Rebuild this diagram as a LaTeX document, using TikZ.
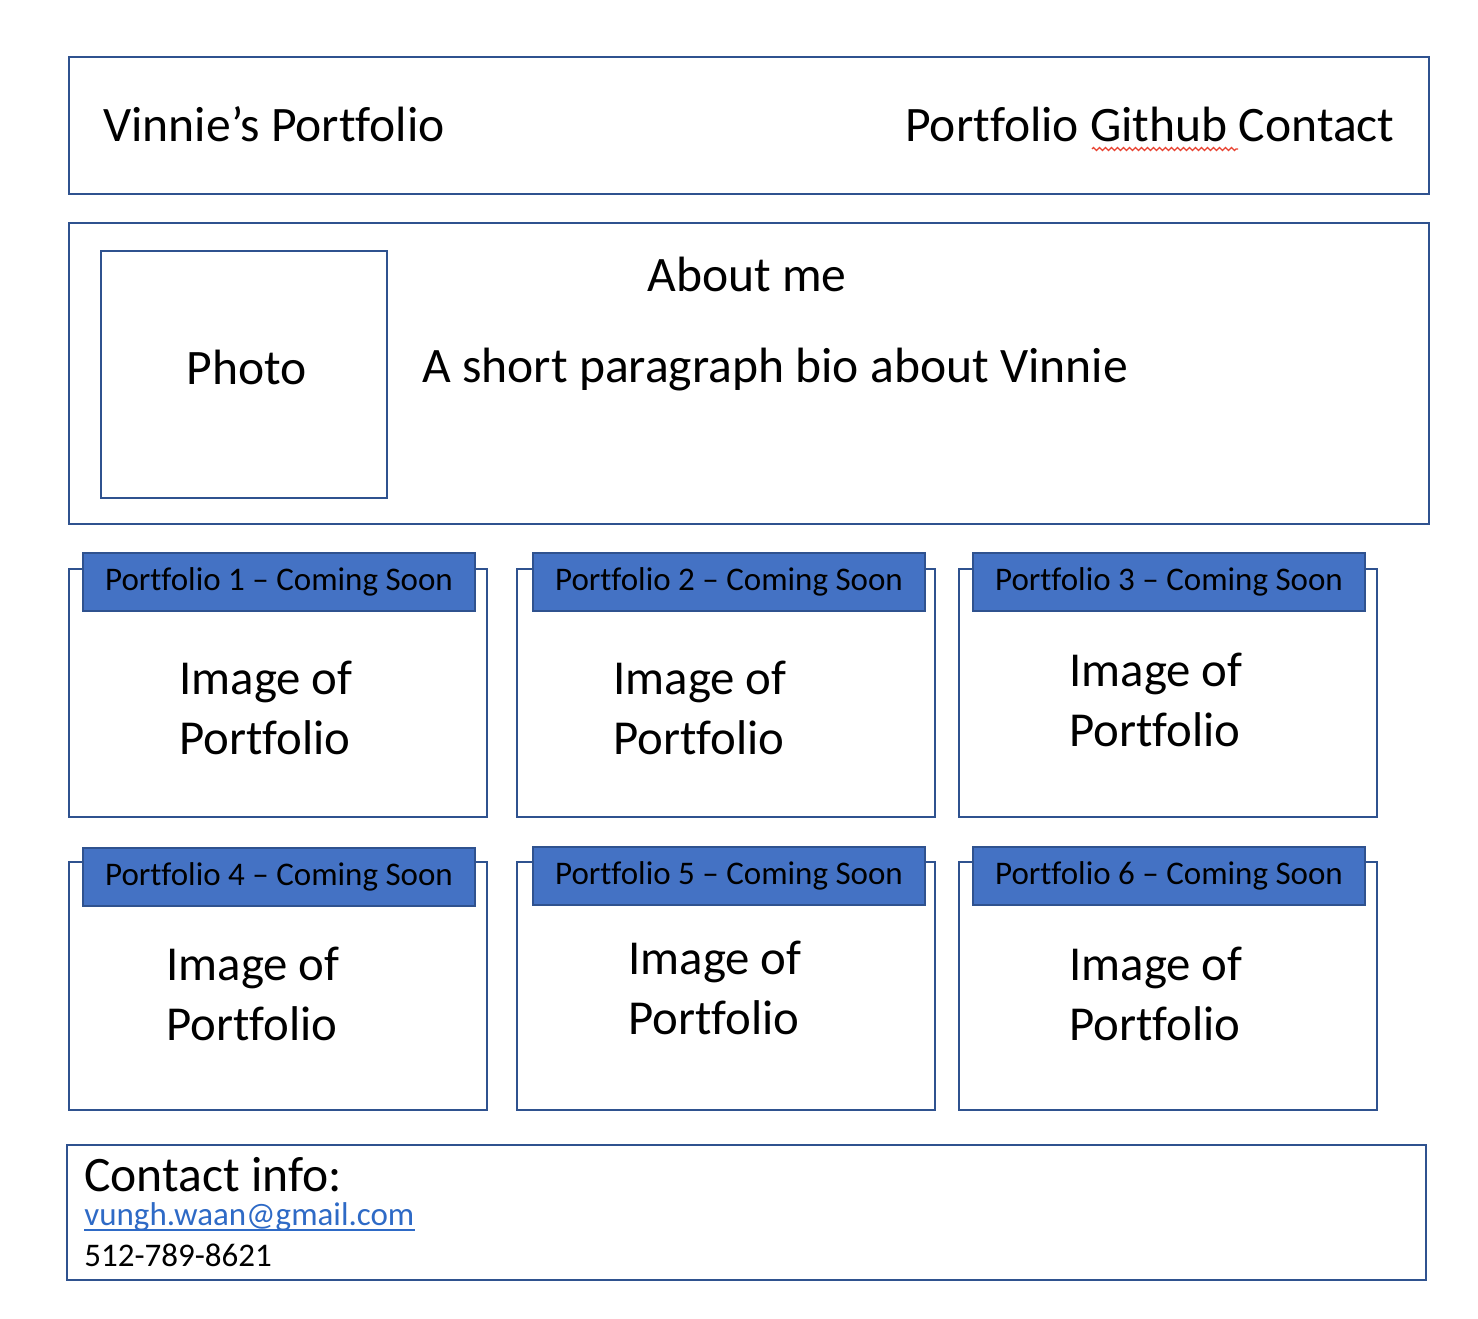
\documentclass[tikz,border=0pt]{standalone}
\usepackage{fontspec}
\setmainfont[Ligatures=NoCommon]{Carlito}
\usepackage{xcolor}
\usetikzlibrary{decorations.pathmorphing}

\definecolor{frameblue}{HTML}{2F528F}
\definecolor{tabblue}{HTML}{4472C4}
\definecolor{linkblue}{HTML}{2E6AC6}
\definecolor{spellred}{HTML}{E8412F}

\begin{document}
\begin{tikzpicture}[x=0.5pt, y=-0.5pt]
    \tikzstyle{panel}=[rectangle, draw=frameblue, line width=1pt, minimum width=680pt]
    \tikzstyle{card}=[rectangle, draw=frameblue, line width=1pt, minimum width=209pt, minimum height=124pt]
    \tikzstyle{tab}=[rectangle, draw=frameblue, fill=tabblue, line width=1pt, minimum width=196pt, minimum height=29pt, font=\fontsize{16.5}{19}\selectfont]
    \tikzstyle{caption}=[anchor=west, inner sep=0pt, align=left, font=\fontsize{24.4}{30}\selectfont]
    \tikzstyle{big}=[inner sep=0pt, font=\fontsize{24.8}{29}\selectfont]
    \tikzstyle{small}=[anchor=base west, inner sep=0pt, font=\fontsize{16.5}{19}\selectfont]

    \useasboundingbox (0,0) rectangle (1478,1318);

    % header bar
    \node[panel, minimum height=68.5pt] (header) at (749,125.5) {};
    \node[big, anchor=base west] (title) at (103,141) {Vinnie’s Portfolio};
    \node[big, anchor=base east] (nav) at (1395,141) {Portfolio Github Contact};
    \draw[spellred, line width=0.6pt, decorate, decoration={zigzag, segment length=3pt, amplitude=0.8pt}] (1092,149) -- (1238,149);

    % about section
    \node[panel, minimum height=150.5pt] (about) at (749,373.5) {};
    \node[rectangle, draw=frameblue, line width=1pt, minimum width=143pt, minimum height=123.5pt] (photo) at (244,374.5) {};
    \node[big, anchor=base] (phototext) at (247,384) {Photo};
    \node[big, anchor=base] (abouthead) at (747,291) {About me};
    \node[big, anchor=base west] (bio) at (422,382) {A short paragraph bio about Vinnie};

    % portfolio cards
    \foreach \i/\cx/\cy/\tx/\ty/\ix/\iy in {1/278/692.5/279/582/179/708,
                                             2/726/692.5/729/582/613/708,
                                             3/1168/692.5/1169/582/1069/700,
                                             4/278/985.5/279/877/166/994,
                                             5/726/985.5/729/876/628/988,
                                             6/1168/985.5/1169/876/1069/994} {
        \node[card] (card\i) at (\cx,\cy) {};
        \node[tab] (tab\i) at (\tx,\ty) {Portfolio \i\ – Coming Soon};
        \node[caption] (img\i) at (\ix,\iy) {Image of\\Portfolio};
    }

    % contact footer
    \node[panel, minimum width=679.5pt, minimum height=67.5pt] (contact) at (746.5,1212.5) {};
    \node[big, anchor=base west] (contacthead) at (84,1191) {Contact info:};
    \node[small, text=linkblue] (email) at (84,1225) {vungh.waan@gmail.com};
    \draw[linkblue, line width=1pt] ([yshift=-2.5pt]email.base west) -- ([yshift=-2.5pt]email.base east);
    \node[small] (phone) at (84,1266) {512-789-8621};
\end{tikzpicture}
\end{document}
